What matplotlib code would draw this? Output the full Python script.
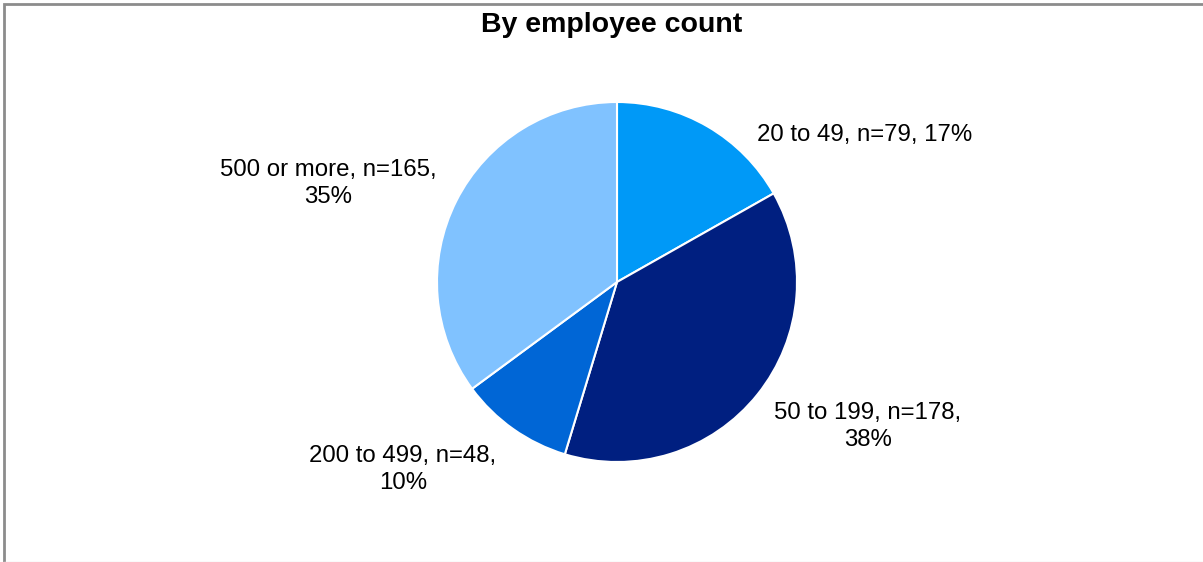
import matplotlib
matplotlib.use("Agg")
import matplotlib.pyplot as plt
from matplotlib.patches import Rectangle

plt.rcParams['font.family'] = ['Liberation Sans', 'DejaVu Sans']

categories = ["20 to 49", "50 to 199", "200 to 499", "500 or more"]
counts = [79, 178, 48, 165]
percents = [17, 38, 10, 35]
colors = ["#0099F7", "#001F80", "#0066D6", "#80C2FF"]

W, H = 1203, 562
fig = plt.figure(figsize=(W / 100, H / 100), dpi=100)

# outer frame (left and top edges visible, faint bottom edge)
fig.patches.append(Rectangle((4 / W, -0.05), 1.1, 1 - 4 / H + 0.05, transform=fig.transFigure,
                             fill=False, edgecolor="#8c8c8c", linewidth=2, zorder=0))
fig.add_artist(plt.Line2D([4 / W, 1], [0.5 / H, 0.5 / H], transform=fig.transFigure,
                          color="#e6e6e6", linewidth=1))

cx, cy, r = 617, 282, 180
ax = fig.add_axes([(cx - r) / W, (H - cy - r) / H, 2 * r / W, 2 * r / H])
ax.pie(counts, colors=colors, startangle=90, counterclock=False, radius=1,
       wedgeprops=dict(edgecolor="white", linewidth=1.5))
ax.set_xlim(-1, 1)
ax.set_ylim(-1, 1)
ax.set_aspect("auto")
ax.axis("off")

labels = [
    f"{categories[0]}, n={counts[0]}, {percents[0]}%",
    f"{categories[1]}, n={counts[1]},\n{percents[1]}%",
    f"{categories[2]}, n={counts[2]},\n{percents[2]}%",
    f"{categories[3]}, n={counts[3]},\n{percents[3]}%",
]
label_pos = [(1.376, 0.817), (1.394, -0.803), (-1.189, -1.042), (-1.606, 0.547)]
for text, (x, y) in zip(labels, label_pos):
    ax.text(x, y, text, ha="center", va="center", fontsize=17.3, linespacing=1.3, clip_on=False)

fig.text(612 / W, 1 - 25 / H, "By employee count", ha="center", va="center",
         fontsize=20.5, fontweight="bold")

fig.savefig("out.png", dpi=100)
